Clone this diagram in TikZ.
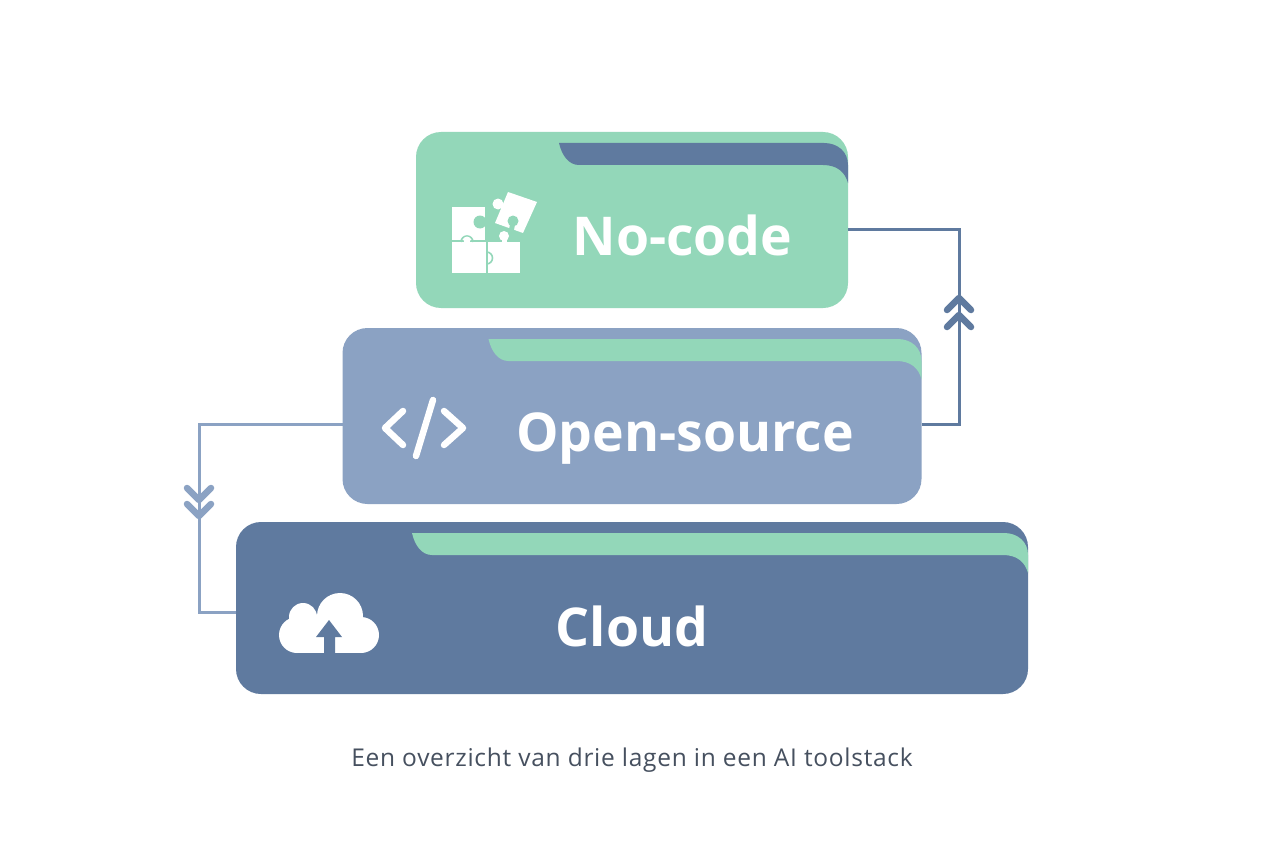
\documentclass[tikz,border=0pt]{standalone}
\usepackage{fontspec}
\setmainfont{Open Sans}
\usetikzlibrary{positioning, calc}
\definecolor{greenbox}{HTML}{93D7B9}
\definecolor{midbox}{HTML}{8BA2C3}
\definecolor{darkbox}{HTML}{5F7A9F}
\definecolor{captiongray}{HTML}{46505F}

% band under the top edge of a box: name, colour, start seen from the right edge
\newcommand{\tierband}[3]{
        \begin{scope}[shift={(#1.north east)}]
                \fill[#2] (#3,11) .. controls (#3+3,24) and (#3+10,33) .. (#3+20,33) -- (-25,33)
                        .. controls (-11,33) and (-3,40) .. (0,51) -- (0,33)
                        .. controls (0,20) and (-10,11) .. (-24,11) -- cycle;
        \end{scope}
}

\begin{document}
\begin{tikzpicture}[x=1pt, y=-1pt,
        tier/.style={rectangle, rounded corners=25pt, outer sep=0pt, inner sep=0pt},
        tiertext/.style={anchor=base, text=white, font=\fontsize{#1}{#1}\selectfont\bfseries},
        link/.style={line width=3pt, line join=miter},
        chevron/.style={line width=6.5pt, line cap=round, line join=round},
        codemark/.style={line width=6.5pt, white, line cap=round, line join=round}]
        \useasboundingbox (0,0) rectangle (1264,848);
        \fill[white] (0,0) rectangle (1264,848);

        \node[tier, fill=darkbox, minimum width=792pt, minimum height=172pt] (cloud) at (632,608) {};
        \node[tier, fill=midbox, minimum width=579pt, minimum height=176pt] (open) [above=18pt of cloud] {};
        \node[tier, fill=greenbox, minimum width=432pt, minimum height=176pt] (nocode) [above=20pt of open] {};

        \tierband{nocode}{darkbox}{-289}
        \tierband{open}{greenbox}{-433}
        \tierband{cloud}{greenbox}{-616}

        \node[tiertext=53.5] (nocodetext) at (682.5,255.5) {No-code};
        \node[tiertext=53.5] (opentext) at (685,451) {Open-source};
        \node[tiertext=53.5] (cloudtext) at (632,646.5) {Cloud};
        \node[anchor=base, text=captiongray, font=\fontsize{24.5}{24.5}\selectfont\addfontfeatures{LetterSpace=2.9}] (caption) at (632,766) {Een overzicht van drie lagen in een AI toolstack};

        % connectors
        \coordinate (nocodeout) at (nocode.east |- 0,229);
        \coordinate (openout) at (open.east |- 0,424);
        \coordinate (openleft) at (open.west |- 0,424);
        \coordinate (cloudin) at (cloud.west |- 0,612);
        \draw[link, darkbox] (openout) -- (959,424) -- (959,229) -- (nocodeout);
        \draw[link, midbox] (openleft) -- (199,424) -- (199,612) -- (cloudin);

        \foreach \y in {298,315} {
                \draw[chevron, darkbox] (947,\y+12) -- (959,\y) -- (971,\y+12);
        }
        \foreach \y in {488,504} {
                \draw[chevron, midbox] (187,\y) -- (199,\y+12) -- (211,\y);
        }

        % puzzle icon
        \fill[white] (452,207) -- (485,207) -- (485,240) -- (452,240) -- cycle;
        \fill[white] (452,242) -- (485.5,242) -- (485.5,273) -- (452,273) -- cycle;
        \fill[white] (487.5,242) -- (520,242) -- (520,273) -- (487.5,273) -- cycle;
        \fill[white] (504,236) circle (5);
        \fill[white] (501.5,236) rectangle (506.5,243);
        \fill[greenbox] (480,222) circle (6.5);
        \fill[white] (508,192) -- (537,202) -- (523,233) -- (495,223) -- cycle;
        \fill[white] (498,204) circle (5.5);
        \draw[greenbox, line width=5pt] (513,222) -- (511,232);
        \fill[greenbox] (513,221) circle (5.5);
        \draw[greenbox, line width=1.6pt] (461,242) arc (180:360:6);
        \draw[greenbox, line width=1.6pt] (486.5,252) arc (-90:90:6);
        \fill[white] (467,240) circle (3.5);

        % code icon
        \draw[codemark] (403,411) -- (385,428) -- (403,445);
        \draw[codemark] (433,400) -- (416,456);
        \draw[codemark] (444,411) -- (463,428) -- (444,445);

        % cloud icon
        \fill[white] (297,635) circle (18);
        \fill[white] (303,617) circle (14);
        \fill[white] (340,616) circle (23);
        \fill[white] (361,635) circle (18);
        \fill[white] (297,625) rectangle (361,653);
        \fill[white] (305,616) rectangle (340,640);
        \fill[darkbox] (329,620) -- (342,637) -- (335,637) -- (335,655) -- (324,655) -- (324,637) -- (316,637) -- cycle;
\end{tikzpicture}
\end{document}
